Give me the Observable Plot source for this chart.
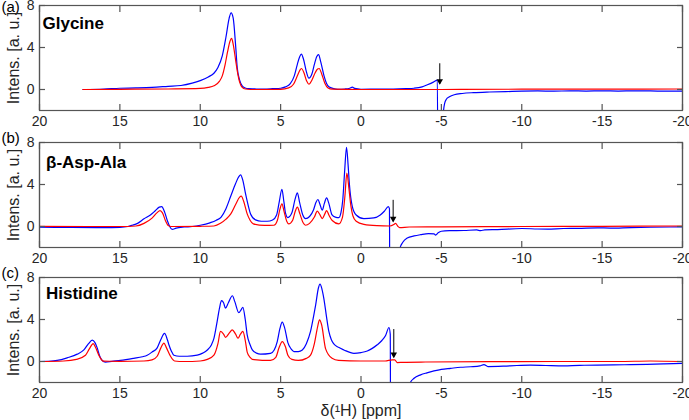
<!DOCTYPE html>
<html><head><meta charset="utf-8">
<script src="https://cdn.jsdelivr.net/npm/d3@7"></script>
<script src="https://cdn.jsdelivr.net/npm/@observablehq/plot@0.6"></script>
<style>
body{margin:0;background:#fff;}
#wrap{position:relative;width:689px;height:420px;overflow:hidden;background:#fff;}
#wrap svg{position:absolute;left:0;}
#pad{position:absolute;left:0;top:0;width:1px;height:1px;font:10px monospace;}
</style>
</head><body><div id="wrap"></div><div id="pad"></div>
<script>
const xTicks = [20, 15, 10, 5, 0, -5, -10, -15, -20];
const yTicks = [0, 4, 8];
const xDomain = [20, -20];
const yDomain = [-2, 8];
const panelNames = ["Glycine", "β-Asp-Ala", "Histidine"];
const panelLetters = ["(a)", "(b)", "(c)"];
const yLabel = "Intens. [a. u.]";
const xLabel = "δ(¹H) [ppm]";

// (a) Glycine
const glyBlueX = [17.3,16,15,14,13,12,11.2,10.5,10,9.5,9.15,8.9,8.63,8.4,8.2,8.08,7.95,7.8,7.7,7.55,7.39,7.2,7.0,6.5,6.0,5.5,5.0,4.7,4.4,4.15,3.96,3.82,3.71,3.58,3.4,3.24,3.05,2.9,2.75,2.64,2.5,2.3,2.15,2.0,1.7,1.47,1.0,0.7,0.54,0.4,0,-1.2,-2,-2.8,-3.3,-3.8,-4.13,-4.5,-4.75,-4.8,-5.08,-5.13,-5.2,-5.3,-5.5,-5.8,-6.3,-7,-8,-9,-10,-11,-12,-13,-14,-15,-16,-17,-18,-19,-20];
const glyBlueY = [0,0.05,0.12,0.15,0.2,0.3,0.38,0.6,0.85,1.2,1.55,2.1,3.2,5.0,6.8,7.3,6.8,4.2,2.1,0.9,0.35,0.15,0.08,0.05,0.05,0.08,0.12,0.25,0.55,1.3,2.4,3.1,3.37,2.9,1.7,1.08,1.5,2.4,3.15,3.33,2.6,1.3,0.6,0.26,0.08,0.02,0.05,0.12,0.22,0.1,0.02,0.05,0.05,0.08,0.12,0.25,0.45,0.7,0.9,-12,-12,-2.1,-1.35,-0.95,-0.7,-0.5,-0.38,-0.3,-0.24,-0.2,-0.16,-0.14,-0.16,-0.13,-0.15,-0.13,-0.15,-0.13,-0.14,-0.15,-0.15];
const glyRedX = [17.3,15,12,10,9.5,9.15,8.8,8.63,8.45,8.3,8.15,8.05,7.95,7.8,7.7,7.55,7.39,7.2,6.5,5.0,4.5,4.2,3.96,3.8,3.71,3.55,3.38,3.24,3.05,2.85,2.7,2.6,2.45,2.25,2.05,1.8,0,-5,-10,-15,-20];
const glyRedY = [0,0.02,0.05,0.1,0.2,0.35,0.8,1.3,2.4,3.6,4.6,4.86,4.3,2.8,1.8,0.7,0.2,0.05,0,0.02,0.15,0.5,1.3,1.85,2.0,1.6,0.8,0.5,0.9,1.6,1.95,2.0,1.5,0.6,0.15,0.03,0,0,0.03,0.04,0.05];

// (b) beta-Asp-Ala
const aspBlueX = [20,18,16,15,14.5,14.23,13.9,13.5,13.1,12.8,12.55,12.4,12.2,12.05,11.9,11.75,11.5,11,10.5,10,9.4,9.0,8.7,8.4,8.1,7.8,7.6,7.49,7.35,7.18,7.0,6.87,6.56,6.2,5.83,5.5,5.25,5.08,4.92,4.8,4.7,4.55,4.3,4.1,3.96,3.82,3.62,3.45,3.2,2.95,2.8,2.68,2.55,2.41,2.28,2.14,2.0,1.8,1.6,1.38,1.25,1.13,1.02,0.9,0.8,0.72,0.54,0.3,-0.18,-0.8,-1.2,-1.45,-1.7,-1.77,-1.8,-2.38,-2.42,-2.6,-2.88,-3.3,-3.71,-4.2,-4.54,-4.64,-4.8,-5.0,-5.5,-6.4,-7.2,-7.44,-7.7,-8.5,-10,-11,-11.6,-12.6,-13.5,-14.7,-15.5,-16.8,-18,-20];
const aspBlueY = [-0.07,-0.08,-0.1,-0.08,0,0.12,0.3,0.73,1.1,1.5,1.85,1.9,1.3,0.57,0,-0.28,-0.15,-0.05,0,0.12,0.35,0.6,0.9,1.7,2.9,4.1,4.75,4.92,4.4,3.1,1.9,1.2,0.63,0.5,0.5,0.62,1.1,2.4,3.55,2.4,1.3,0.85,1.3,2.6,3.2,2.3,1.1,0.75,0.95,1.6,2.3,2.57,2.1,1.55,2.2,2.73,2.2,1.1,0.9,0.85,1.3,2.6,5.2,7.55,5.8,4.0,1.9,1.1,0.75,0.82,1.1,1.45,1.9,1.7,-12,-12,-2.1,-1.5,-1.1,-0.9,-0.78,-0.68,-0.7,-0.82,-0.6,-0.45,-0.4,-0.38,-0.33,-0.4,-0.32,-0.29,-0.19,-0.24,-0.25,-0.19,-0.18,-0.13,-0.15,-0.1,-0.07,-0.04];
const aspRedX = [20,17,15,14,13.5,13.0,12.7,12.5,12.35,12.15,12.0,11.8,10,9.15,8.74,8.4,8.1,7.8,7.55,7.45,7.3,7.08,6.9,6.7,6.0,5.42,5.2,5.05,4.92,4.78,4.62,4.5,4.25,4.1,3.96,3.8,3.6,3.45,3.2,2.9,2.72,2.55,2.41,2.25,2.14,2.0,1.79,1.38,1.15,1.0,0.88,0.75,0.65,0.5,0.3,-0.18,-1,-1.8,-2.05,-2.15,-2.3,-2.4,-3,-5,-10,-15,-20];
const aspRedY = [0.02,0,0,0.05,0.3,0.8,1.3,1.52,1.3,0.5,0.1,0,0.02,0.05,0.3,0.7,1.2,2.1,2.8,2.89,2.4,1.2,0.6,0.25,0.1,0.12,0.6,1.6,2.16,1.4,0.5,0.25,0.6,1.4,1.84,1.2,0.35,0.12,0.3,0.9,1.46,1.1,0.75,1.2,1.52,1.1,0.57,0.25,0.9,2.9,5.08,3.6,2.2,1.0,0.5,0.2,0.08,0.05,0.2,0.3,0,-0.1,-0.05,-0.03,0,0.02,0.05];

// (c) Histidine
const hisBlueX = [20,19.5,18.9,18.28,17.65,17.24,16.95,16.72,16.55,16.41,16.25,16.1,15.9,15.5,14.96,14.13,13.6,13.3,13.0,12.68,12.45,12.22,12.05,11.95,11.8,11.64,11.3,10.81,10.19,9.85,9.56,9.3,9.15,8.95,8.8,8.68,8.55,8.43,8.25,8.0,7.85,7.6,7.45,7.35,7.2,7.08,6.9,6.76,6.5,6.25,5.63,5.4,5.21,5.05,4.9,4.75,4.55,4.35,4.17,3.9,3.65,3.4,3.14,2.95,2.82,2.65,2.55,2.43,2.3,2.15,2.0,1.85,1.69,1.4,1.06,0.44,0,-0.39,-0.7,-1.01,-1.3,-1.53,-1.74,-1.82,-1.85,-3.0,-3.04,-3.3,-3.71,-4.1,-4.54,-5.0,-5.58,-6.2,-6.83,-7.4,-7.65,-7.9,-8.89,-9.7,-10.55,-11.5,-12.62,-13.6,-14.7,-15.7,-16.78,-17.8,-18.85,-20];
const hisBlueY = [0,0.02,0.1,0.35,0.7,1.1,1.7,2.03,1.8,1.3,0.5,0.1,-0.05,0.02,0.1,0.3,0.45,0.6,0.9,1.3,2.1,2.67,2.1,1.6,1.0,0.6,0.5,0.5,0.6,0.8,1.1,1.6,2.2,3.8,5.1,5.8,5.6,5.08,5.6,6.26,5.7,4.65,4.95,5.16,4.0,2.54,1.6,1.11,0.8,0.7,0.78,1.1,1.9,3.1,3.75,3.2,1.8,1.2,0.95,0.95,1.1,1.7,2.86,4.3,5.4,7.0,7.37,6.9,5.9,4.3,2.86,2.1,1.68,1.35,1.1,0.78,0.85,1.0,1.25,1.59,2.0,2.48,3.24,2.6,-12,-12,-2.1,-1.6,-1.27,-1.08,-0.9,-0.75,-0.65,-0.55,-0.5,-0.42,-0.3,-0.48,-0.44,-0.38,-0.35,-0.38,-0.41,-0.36,-0.35,-0.33,-0.3,-0.27,-0.23,-0.17];
const hisRedX = [20,18.5,17.7,17.14,16.9,16.66,16.5,16.31,16.1,16.0,15,13.5,13.0,12.68,12.45,12.26,12.1,11.85,11.6,11.0,10.0,9.56,9.15,8.9,8.74,8.55,8.43,8.2,8.01,7.8,7.65,7.5,7.35,7.2,7.08,6.9,6.76,5.63,5.3,5.1,4.9,4.7,4.55,4.3,3.9,3.4,3.14,2.9,2.7,2.58,2.45,2.2,1.8,1.4,0,-1.5,-1.94,-2.1,-2.26,-2.6,-4,-8,-12,-16,-18,-20];
const hisRedY = [0,0.05,0.2,0.6,1.2,1.71,1.3,0.6,0.1,0.03,0.02,0.05,0.15,0.5,1.3,1.75,1.3,0.5,0.05,0,0.05,0.2,0.6,1.7,2.86,2.6,2.3,2.7,3.02,2.6,2.22,2.6,2.86,2.0,0.9,0.4,0.2,0.1,0.4,1.3,1.9,1.4,0.6,0.2,0.1,0.3,0.6,1.7,3.3,3.97,3.5,1.2,0.3,0.1,0.05,0.05,0.15,0.15,-0.1,-0.08,-0.05,-0.02,0,0,0.05,0];

// arrows marking the transmitter frequency: x, start y, tip y
const arrowX = [-4.9, -2.0, -2.04];
const arrowY1 = [2.5, 2.54, 3.09];
const arrowY2 = [0.55, 0.5, 0.42];

const series = [
  [glyBlueX, glyBlueY, glyRedX, glyRedY],
  [aspBlueX, aspBlueY, aspRedX, aspRedY],
  [hisBlueX, hisBlueY, hisRedX, hisRedY]
];

const layout = [
  {top: 0, mt: 5, mb: 20, tdx: 3, tdy: 18, ldy: 2},
  {top: 125, mt: 17, mb: 15, tdx: 6.5, tdy: 20, ldy: -4.5},
  {top: 262, mt: 15, mb: 38, tdx: 6.5, tdy: 16, ldy: -4}
];

const FRAME = "#555555";
const wrap = document.getElementById("wrap");

series.forEach(([bx, by, rx, ry], i) => {
  const L = layout[i];
  const marks = [
    Plot.line(bx, {x: bx, y: by, stroke: "#0000ff", strokeWidth: 1.2, curve: "monotone-x", clip: true}),
    Plot.line(rx, {x: rx, y: ry, stroke: "#ff0000", strokeWidth: 1.2, curve: "monotone-x", clip: true}),
    Plot.link([0], {x1: [arrowX[i]], x2: [arrowX[i]], y1: [arrowY1[i]], y2: [arrowY2[i]], stroke: "black", strokeWidth: 1}),
    Plot.dot([0], {x: [arrowX[i]], y: [arrowY2[i]], symbol: "triangle", rotate: 180, r: 2.4, fill: "black", stroke: null, dy: -2.6}),
    Plot.frame({stroke: FRAME, strokeWidth: 1.2}),
    Plot.ruleX(xDomain, {stroke: FRAME, strokeWidth: 1.2}),
    Plot.ruleY(yDomain, {stroke: FRAME, strokeWidth: 1.2}),
    Plot.axisX({ticks: xTicks, tickSize: 0, tickPadding: 6, tickFormat: d => String(d), label: null, fontSize: 14}),
    Plot.axisX({ticks: xTicks, tickSize: -6, tickFormat: () => "", label: null, stroke: FRAME, strokeWidth: 1.2}),
    Plot.axisX({anchor: "top", ticks: xTicks, tickSize: -6, tickFormat: () => "", label: null, stroke: FRAME, strokeWidth: 1.2}),
    Plot.axisY({ticks: yTicks, tickSize: 0, tickPadding: 5, tickFormat: d => String(d), label: null, fontSize: 14}),
    Plot.axisY({ticks: yTicks, tickSize: -6, tickFormat: () => "", label: null, stroke: FRAME, strokeWidth: 1.2}),
    Plot.axisY({anchor: "right", ticks: yTicks, tickSize: -6, tickFormat: () => "", label: null, stroke: FRAME, strokeWidth: 1.2}),
    Plot.text([panelNames[i]], {frameAnchor: "top-left", dx: L.tdx, dy: L.tdy, textAnchor: "start", lineAnchor: "middle", fontWeight: "bold", fontSize: 17, fill: "black"}),
    Plot.text([panelLetters[i]], {frameAnchor: "top-left", dx: -38, dy: L.ldy, textAnchor: "start", lineAnchor: "middle", fontSize: 15, fill: "black"}),
    Plot.text([yLabel], {frameAnchor: "left", dx: -26, rotate: -90, textAnchor: "middle", lineAnchor: "middle", fontSize: 16, fill: "#262626"})
  ];
  if (i === 2) {
    marks.push(Plot.text([xLabel], {frameAnchor: "bottom", dy: 28.5, textAnchor: "middle", lineAnchor: "middle", fontSize: 16, fill: "#262626"}));
  }
  const svg = Plot.plot({
    width: 689,
    height: L.mt + 105 + L.mb,
    marginLeft: 39, marginRight: 7, marginTop: L.mt, marginBottom: L.mb,
    x: {domain: xDomain},
    y: {domain: yDomain},
    style: {fontFamily: "'Liberation Sans', Arial, Helvetica, sans-serif", fontSize: "14px", color: "#262626", background: "transparent", overflow: "visible"},
    marks
  });
  svg.style.top = L.top + "px";
  wrap.appendChild(svg);
});
</script>
</body></html>
